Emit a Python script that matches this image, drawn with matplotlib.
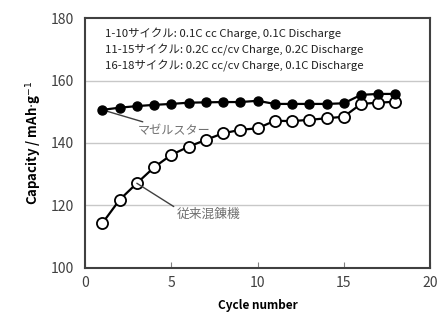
import matplotlib
matplotlib.use('Agg')
import matplotlib.pyplot as plt

plt.rcParams['font.family'] = ['Noto Sans CJK JP', 'DejaVu Sans']

# Données
cycles = list(range(1, 19))
mazel = [150.6, 151.3, 151.8, 152.2, 152.5, 152.9, 153.0, 153.1, 153.1, 153.5,
         152.5, 152.5, 152.5, 152.5, 152.7, 155.4, 155.7, 155.7]
conventional = [114.3, 121.8, 127.1, 132.2, 136.2, 138.8, 141.0, 143.1, 144.2, 144.7,
                147.1, 147.0, 147.4, 147.9, 148.4, 152.5, 152.9, 153.2]
condition_lines = [
    '1-10サイクル: 0.1C cc Charge, 0.1C Discharge',
    '11-15サイクル: 0.2C cc/cv Charge, 0.2C Discharge',
    '16-18サイクル: 0.2C cc/cv Charge, 0.1C Discharge',
]

fig = plt.figure(figsize=(4.41, 3.22), dpi=100)
ax = fig.add_axes([0.193, 0.168, 0.782, 0.776])

ax.plot(cycles, conventional, color='black', lw=1.6, marker='o', ms=8,
        mfc='white', mec='black', mew=1.3, zorder=3)
ax.plot(cycles, mazel, color='black', lw=1.6, marker='o', ms=6.5,
        mfc='black', mec='black', zorder=4)

ax.set_xlim(0, 20)
ax.set_ylim(100, 180)
ax.set_xticks([0, 5, 10, 15, 20])
ax.set_yticks([100, 120, 140, 160, 180])
for y in [120, 140, 160]:
    ax.axhline(y, color='#c8c8c8', lw=1, zorder=1)

for side in ax.spines.values():
    side.set_color('#404040')
    side.set_linewidth(1.5)
ax.tick_params(axis='x', direction='in', length=4, color='#808080',
               labelsize=10, labelcolor='#404040', pad=6)
ax.tick_params(axis='y', length=0, labelsize=10, labelcolor='#404040', pad=8)

ax.set_xlabel('Cycle number', fontsize=8.5, fontweight='bold', labelpad=6)
ax.set_ylabel('Capacity / mAh$\\cdot$g$^{-1}$', fontsize=9.5, fontweight='bold', labelpad=5)

# Conditions de cyclage
for i, line in enumerate(condition_lines):
    ax.text(1.15, 175 - i * 5.2, line, fontsize=8.2, color='#202020', va='center')

# Annotations des séries
ax.annotate('マゼルスター', xy=(cycles[0], mazel[0]), xytext=(3.05, 143.8),
            fontsize=8.7, color='#707070', va='center',
            arrowprops=dict(arrowstyle='-', color='#404040', lw=1, shrinkA=0, shrinkB=0))
ax.annotate('従来混錬機', xy=(cycles[2], conventional[2]), xytext=(5.3, 117.0),
            fontsize=9.2, color='#707070', va='center',
            arrowprops=dict(arrowstyle='-', color='#404040', lw=1, shrinkA=0, shrinkB=0,
                            relpos=(0, 1)))

fig.savefig('out.png', dpi=100)
